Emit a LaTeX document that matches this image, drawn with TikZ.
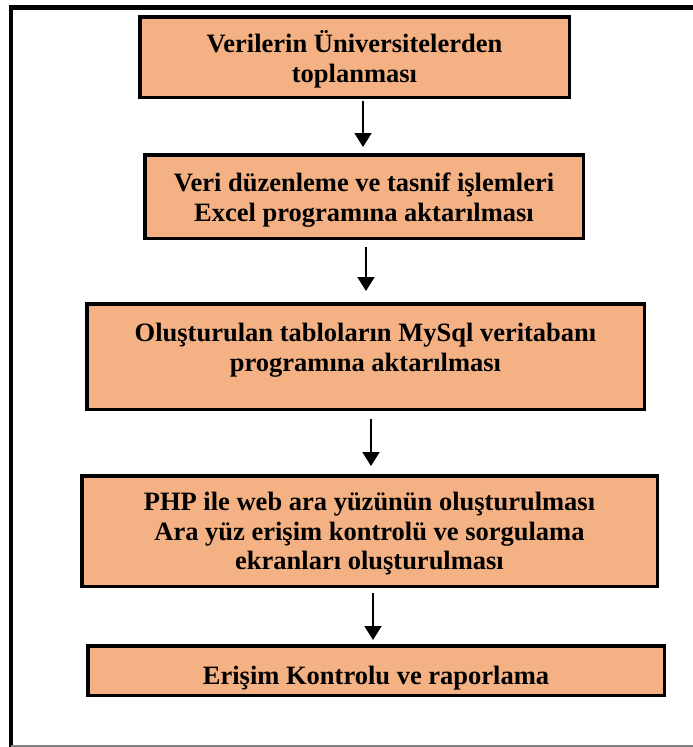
\documentclass[tikz,border=0pt]{standalone}
\usepackage{fontspec}
\setmainfont{Liberation Serif}
\usetikzlibrary{arrows.meta}
\definecolor{boxfill}{HTML}{F4B183}
% centred block of lines, its middle put #1 below the node centre
% (the tabular is centred on the math axis, 0.25em above the baseline)
\newcommand{\linesdown}[2]{\raisebox{\dimexpr-#1-6.6pt\relax}[0pt][0pt]{\begin{tabular}{@{}c@{}}#2\end{tabular}}}
\tikzset{
  stepbox/.style={draw=black, line width=3.5pt, fill=boxfill, align=center,
    font=\fontsize{26.5}{29.5}\selectfont\bfseries, inner sep=0pt},
  flow/.style={line width=1.8pt, -{Triangle[length=14pt,width=17pt]}},
}
\begin{document}
\begin{tikzpicture}[x=1pt,y=-1pt]
  \useasboundingbox (0,0) rectangle (693,747);
  % page frame
  \draw[line width=4.2pt] (693,7.4) -- (10.6,7.4) -- (10.6,747);
  \draw[line width=1.4pt, gray] (10.6,746) -- (693,746);

  % process steps
  \node[stepbox, minimum width=429.5pt, minimum height=80.5pt] (s1) at (354.5,57)
    {\linesdown{3.5pt}{Verilerin Üniversitelerden\\toplanması}};
  \node[stepbox, minimum width=438.5pt, minimum height=83.5pt] (s2) at (364,196.5)
    {\linesdown{3.5pt}{Veri düzenleme ve tasnif işlemleri\\Excel programına aktarılması}};
  \node[stepbox, minimum width=557.5pt, minimum height=105.5pt] (s3) at (365.5,356.5)
    {\linesdown{-6.5pt}{Oluşturulan tabloların MySql veritabanı\\programına aktarılması}};
  \node[stepbox, minimum width=575.5pt, minimum height=110.5pt] (s4) at (369.5,531)
    {\linesdown{3pt}{PHP ile web ara yüzünün oluşturulması\\Ara yüz erişim kontrolü ve sorgulama\\ekranları oluşturulması}};
  \node[stepbox, minimum width=576.5pt, minimum height=49.5pt] (s5) at (376,670.5)
    {\linesdown{8pt}{Erişim Kontrolu ve raporlama}};

  % connectors
  \coordinate (a1) at (363,101);  \coordinate (b1) at (363,147);
  \coordinate (a2) at (366,247);  \coordinate (b2) at (366,291);
  \coordinate (a3) at (371,419);  \coordinate (b3) at (371,466);
  \coordinate (a4) at (373,593);  \coordinate (b4) at (373,640);
  \draw[flow] (a1) -- (b1);
  \draw[flow] (a2) -- (b2);
  \draw[flow] (a3) -- (b3);
  \draw[flow] (a4) -- (b4);
\end{tikzpicture}
\end{document}
